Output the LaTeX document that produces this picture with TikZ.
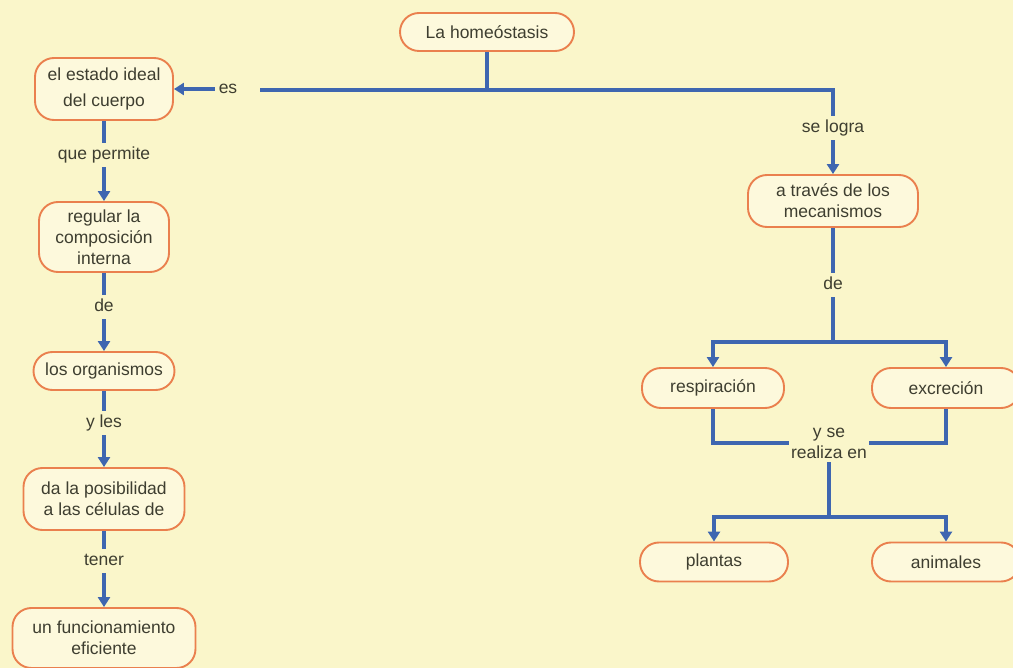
\documentclass[tikz,border=0pt]{standalone}
\usepackage{fontspec}
\setmainfont{Liberation Sans}
\usetikzlibrary{arrows.meta}

\definecolor{paper}{RGB}{250,246,202}
\definecolor{boxfill}{RGB}{253,249,220}
\definecolor{boxline}{RGB}{234,128,78}
\definecolor{linkblue}{RGB}{62,102,176}
\definecolor{ink}{RGB}{62,62,48}

\tikzset{
  concept/.style={draw=boxline, line width=1.9pt, fill=boxfill, rounded corners=19pt,
    align=center, inner sep=2pt, text=ink,
    font=\fontsize{17.5}{21}\selectfont},
  linklabel/.style={text=ink, inner xsep=4pt, inner ysep=4pt,
    text height=12.5pt, text depth=3.5pt,
    font=\fontsize{17.5}{21}\selectfont},
  link/.style={draw=linkblue, line width=4.6pt},
  linkarrow/.style={link, -{Triangle[length=10pt,width=12pt]}},
}

\begin{document}
\begin{tikzpicture}[x=1pt,y=-1pt]
  % page
  \fill[paper] (0,0) rectangle (1013,668);
  \useasboundingbox (0,0) rectangle (1013,668);

  % concept boxes
  \node[concept, minimum width=174pt, minimum height=38pt] (homeo) at (487,32) {La homeóstasis};
  \node[concept, minimum width=138pt, minimum height=62pt,
        font=\fontsize{17.5}{26}\selectfont] (estado) at (104,89) {el estado ideal\\del cuerpo};
  \node[concept, minimum width=130pt, minimum height=70pt] (regular) at (104,237) {regular la\\composición\\interna};
  \node[concept, minimum width=141pt, minimum height=38pt] (organismos) at (104,371) {los organismos};
  \node[concept, minimum width=161pt, minimum height=62pt] (posib) at (104,499) {da la posibilidad\\a las células de};
  \node[concept, minimum width=183pt, minimum height=60pt] (func) at (104,638) {un funcionamiento\\eficiente};

  \node[concept, minimum width=170pt, minimum height=52pt] (traves) at (833,201) {a través de los\\mecanismos};
  \node[concept, minimum width=142pt, minimum height=40pt] (resp) at (713,388) {respiración};
  \node[concept, minimum width=148pt, minimum height=40pt] (excr) at (946,388) {excreción};
  \node[concept, minimum width=148pt, minimum height=39pt] (plantas) at (714,562) {plantas};
  \node[concept, minimum width=148pt, minimum height=39pt] (animales) at (946,562) {animales};

  % link words
  \node[linklabel] (es) at (228,89) {es};
  \node[linklabel] (selogra) at (833,128) {se logra};
  \node[linklabel] (de2) at (833,285) {de};
  \node[linklabel] (queperm) at (104,155) {que permite};
  \node[linklabel] (de1) at (104,307) {de};
  \node[linklabel] (yles) at (104,423) {y les};
  \node[linklabel] (tener) at (104,561) {tener};
  \node[linklabel, align=center, inner xsep=2pt, text height=, text depth=] (yse) at (829,443) {y se\\realiza en};

  % branching points
  \coordinate (esstart) at (260,90);
  \coordinate (j2) at (833,342);
  \coordinate (j3) at (829,517);

  % top trunk
  \draw[link] (homeo.south) -- (homeo.south |- esstart);
  \draw[link] (esstart) -| (selogra.north);
  \draw[linkarrow] (es.west) -- (estado.east);
  \draw[linkarrow] (selogra.south) -- (traves.north);

  % left column
  \draw[link] (estado.south) -- (queperm.north);
  \draw[linkarrow] (queperm.south) -- (regular.north);
  \draw[link] (regular.south) -- (de1.north);
  \draw[linkarrow] (de1.south) -- (organismos.north);
  \draw[link] (organismos.south) -- (yles.north);
  \draw[linkarrow] (yles.south) -- (posib.north);
  \draw[link] (posib.south) -- (tener.north);
  \draw[linkarrow] (tener.south) -- (func.north);

  % right branch
  \draw[link] (traves.south) -- (de2.north);
  \draw[link] (de2.south) -- (j2);
  \draw[linkarrow] (j2) -| (resp.north);
  \draw[linkarrow] (j2) -| (excr.north);
  \draw[link] (resp.south) |- (yse.west);
  \draw[link] (excr.south) |- (yse.east);
  \draw[link] (yse.south) -- (j3);
  \draw[linkarrow] (j3) -| (plantas.north);
  \draw[linkarrow] (j3) -| (animales.north);
\end{tikzpicture}
\end{document}
